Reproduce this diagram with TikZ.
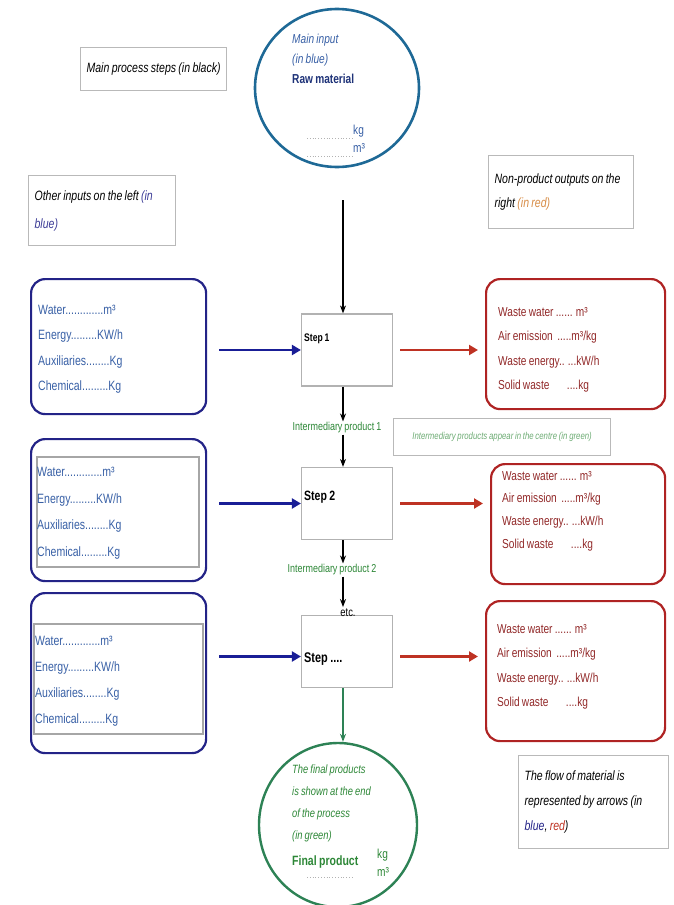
\documentclass[tikz,border=0pt]{standalone}
\usepackage{fontspec}
\setmainfont{Liberation Sans}[FakeStretch=0.78, WordSpace=0.8]
\usetikzlibrary{arrows.meta,shapes.geometric}

\definecolor{inblue}{RGB}{35,35,135}
\definecolor{arrblue}{RGB}{25,30,150}
\definecolor{txtblue}{RGB}{55,95,165}
\definecolor{rawblue}{RGB}{30,50,120}
\definecolor{outred}{RGB}{175,35,35}
\definecolor{arrred}{RGB}{190,50,35}
\definecolor{txtred}{RGB}{145,40,40}
\definecolor{midgreen}{RGB}{45,135,55}
\definecolor{ellblue}{RGB}{30,105,150}
\definecolor{ellgreen}{RGB}{45,130,85}
\definecolor{noteorange}{RGB}{215,140,70}
\definecolor{notenavy}{RGB}{60,60,150}

\tikzset{
  note/.style={draw=gray!55, line width=1.2pt, align=flush left, inner sep=6pt,
    font=\fontsize{13.5}{24}\selectfont\itshape, anchor=north west},
  stepbox/.style={draw=gray!60, line width=1.2pt, minimum width=91pt, minimum height=72pt},
  steplabel/.style={anchor=west, inner sep=1pt},
  inbox/.style={draw=inblue, line width=2.2pt, rounded corners=14pt, minimum width=175pt, anchor=north west},
  listbox/.style={draw=gray!70, line width=1.5pt, anchor=north west},
  intext/.style={text=txtblue, align=left, anchor=west, inner sep=0pt, font=\fontsize{13.5}{25.5}\selectfont},
  outbox/.style={draw=outred, line width=2.2pt, rounded corners=14pt, anchor=north west},
  outtext/.style={text=txtred, align=left, anchor=west, inner sep=0pt, font=\fontsize{13}{24.5}\selectfont},
  inarrow/.style={-{Triangle[length=9pt,width=10pt]}, draw=arrblue, line width=2.6pt, shorten <=12pt},
  outarrow/.style={-{Triangle[length=9pt,width=10pt]}, draw=arrred, line width=2.6pt, shorten <=7pt, shorten >=7pt},
  flow/.style={-{Stealth[length=8pt,width=6pt]}, line width=1.2pt},
  midtext/.style={text=midgreen, inner sep=1pt, font=\fontsize{11.5}{12}\selectfont}
}

\begin{document}
\begin{tikzpicture}[x=1pt, y=-1pt]
\useasboundingbox (0,0) rectangle (674,905);

% notes
\node [note, minimum width=145pt, minimum height=43pt] (mainnote) at (80,47) {Main process steps (in black)};
\node [note, text width=135pt, minimum height=70pt, font=\fontsize{13.5}{28}\selectfont\itshape] (leftnote) at (28,175)
  {Other inputs on the left {\color{notenavy}(in}\\{\color{notenavy}blue)}};
\node [note, text width=133pt, minimum height=73pt] (rightnote) at (488,155)
  {Non-product outputs on the\\right {\color{noteorange}(in red)}};
\node [note, minimum width=217pt, minimum height=37pt, text=midgreen!70, font=\fontsize{10}{12}\selectfont\itshape] (internote) at (393,418)
  {Intermediary products appear in the centre (in green)};
\node [note, text width=138pt, minimum height=93pt, font=\fontsize{13.5}{25}\selectfont\itshape] (flownote) at (518,755)
  {The flow of material is\\represented by arrows (in\\{\color{inblue}blue}, {\color{arrred}red})};

% main input
\node [ellipse, draw=ellblue, line width=2.6pt, minimum width=164pt, minimum height=158pt] (rawin) at (337,88) {};
\node [anchor=north west, align=left, inner sep=0pt, text=txtblue, font=\fontsize{13}{20}\selectfont] (rawtxt) at (292,34)
  {\textit{Main input}\\\textit{(in blue)}\\{\color{rawblue}\bfseries Raw material}};
\node [anchor=west, inner sep=0pt, text=txtblue, font=\fontsize{13}{18}\selectfont, align=left] (rawunit) at (353,139) {kg\\m³};
\draw [gray!60, dotted, line width=0.8pt] (307,138) -- (352,138) (307,156) -- (352,156);
\coordinate (rawout) at (343,200);
\coordinate (spine) at (343,0);

% steps
\node [stepbox] (s1) at (347,350) {};
\node [stepbox] (s2) at (347,503.5) {};
\node [stepbox] (s3) at (347,651.5) {};
\node [steplabel, font=\fontsize{11}{12}\selectfont\bfseries] (s1t) at (303,339) {Step 1};
\node [steplabel, font=\fontsize{13.5}{14}\selectfont\bfseries] (s2t) at (303,497) {Step 2};
\node [steplabel, font=\fontsize{14}{14}\selectfont\bfseries] (s3t) at (303,659) {Step ....};

% intermediates
\node [midtext] (ip1) at (337,428) {Intermediary product 1};
\node [midtext] (ip2) at (332,570) {Intermediary product 2};
\node [anchor=base, inner sep=1pt, font=\fontsize{12}{12}\selectfont] (etc) at (348,616) {etc.};

% inputs on the left
\node [inbox, minimum height=135pt] (in1) at (30,278) {};
\node [intext] (in1t) at (38,349)
  {Water.............m³\\Energy.........KW/h\\Auxiliaries........Kg\\Chemical.........Kg};
\node [inbox, minimum height=142pt] (in2) at (30,438) {};
\node [listbox, minimum width=162pt, minimum height=110pt] (in2l) at (36,456) {};
\node [intext, font=\fontsize{13.5}{26.5}\selectfont] (in2t) at (37,513)
  {Water.............m³\\Energy.........KW/h\\Auxiliaries........Kg\\Chemical.........Kg};
\node [inbox, minimum height=160pt] (in3) at (30,592) {};
\node [listbox, minimum width=169pt, minimum height=110pt] (in3l) at (33,623) {};
\node [intext, font=\fontsize{13.5}{26}\selectfont] (in3t) at (35,681)
  {Water.............m³\\Energy.........KW/h\\Auxiliaries........Kg\\Chemical.........Kg};

% outputs on the right
\node [outbox, minimum width=179pt, minimum height=130pt] (out1) at (485,278) {};
\node [outtext] (out1t) at (498,350)
  {Waste water ...... m³\\Air emission \ .....m³/kg\\Waste energy.. ...kW/h\\Solid waste \quad\ ....kg};
\node [outbox, minimum width=174pt, minimum height=120pt] (out2) at (490,463) {};
\node [outtext, font=\fontsize{13}{22.7}\selectfont] (out2t) at (502,511)
  {Waste water ...... m³\\Air emission \ .....m³/kg\\Waste energy.. ...kW/h\\Solid waste \quad\ ....kg};
\node [outbox, minimum width=179pt, minimum height=140pt] (out3) at (485,600) {};
\node [outtext] (out3t) at (497,667)
  {Waste water ...... m³\\Air emission \ .....m³/kg\\Waste energy.. ...kW/h\\Solid waste \quad\ ....kg};

% final product
\node [ellipse, draw=ellgreen, line width=2.4pt, minimum width=158pt, minimum height=164pt] (finl) at (338,825) {};
\node [anchor=north west, align=left, inner sep=0pt, text=midgreen, font=\fontsize{12}{21.7}\selectfont\itshape] (fintxt) at (292,765)
  {The final products\\is shown at the end\\of the process\\(in green)};
\node [anchor=west, inner sep=0pt, text=midgreen, font=\fontsize{13.5}{14}\selectfont\bfseries] (finname) at (292,862) {Final product};
\node [anchor=west, inner sep=0pt, text=midgreen, font=\fontsize{13}{18}\selectfont, align=left] (finunit) at (377,863) {kg\\m³};
\draw [gray!60, dotted, line width=0.8pt] (307,877) -- (353,877);

% material flow
\draw [flow] (rawout) -- (s1.north -| spine);
\draw [flow] (s1.south -| spine) -- (ip1.north -| spine);
\draw [flow] (ip1.south -| spine) -- (s2.north -| spine);
\draw [flow] (s2.south -| spine) -- (ip2.north -| spine);
\draw [flow] (ip2.south -| spine) -- (etc.north -| spine);
\draw [flow, draw=ellgreen] (s3.south -| spine) -- (finl.north -| spine);

\draw [inarrow] (in1.east |- s1.west) -- (s1.west);
\draw [inarrow] (in2.east |- s2.west) -- (s2.west);
\draw [inarrow] ([yshift=-5pt]in3.east |- s3.west) -- ([yshift=-5pt]s3.west);
\draw [outarrow] (s1.east) -- (out1.west |- s1.east);
\draw [outarrow] (s2.east) -- (out2.west |- s2.east);
\draw [outarrow] ([yshift=-5pt]s3.east) -- ([yshift=-5pt]out3.west |- s3.east);
\end{tikzpicture}
\end{document}
